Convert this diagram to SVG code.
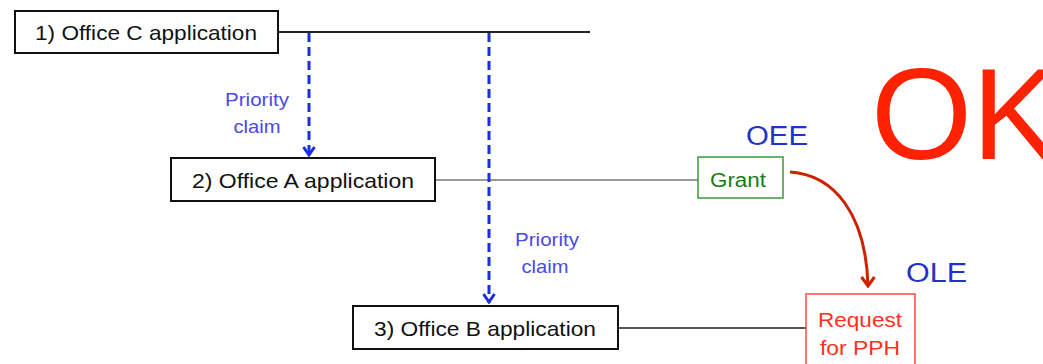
<svg xmlns="http://www.w3.org/2000/svg" width="1043" height="364" viewBox="0 0 1043 364">
<style>
.box{fill:#fff;stroke:#111;stroke-width:2}
.lbl{font-family:"Liberation Sans",Arial,sans-serif;font-size:21px;fill:#111;text-anchor:middle}
.pc{font-family:"Liberation Sans",Arial,sans-serif;font-size:19px;fill:#4a4ae6;text-anchor:middle}
.off{font-family:"Liberation Sans",Arial,sans-serif;font-size:27px;fill:#2233cc}
.dash{stroke:#1a2fe0;stroke-width:3;stroke-dasharray:9 5;fill:none}
.red{font-family:"Liberation Sans",Arial,sans-serif;font-size:20px;fill:#ff3020;text-anchor:middle}
</style>
<defs>
<marker id="vb" markerWidth="14" markerHeight="12" refX="7" refY="11" orient="0" markerUnits="userSpaceOnUse" viewBox="0 0 14 12">
<path d="M1.5 2 L7 10 L12.5 2" fill="none" stroke="#1a2fe0" stroke-width="3"/>
</marker>
<marker id="vr" markerWidth="16" markerHeight="14" refX="8" refY="12" orient="0" markerUnits="userSpaceOnUse" viewBox="0 0 16 14">
<path d="M1.5 3 L8 12 L14.5 3" fill="none" stroke="#cc2200" stroke-width="3"/>
</marker>
</defs>
<rect width="1043" height="364" fill="#fff"/>
<g id="connectors">
<line x1="278" y1="32" x2="590" y2="32" stroke="#222" stroke-width="2"/>
<line x1="435" y1="180" x2="698" y2="180" stroke="#999" stroke-width="2"/>
<line x1="618" y1="328" x2="807" y2="328" stroke="#555" stroke-width="2"/>
<line class="dash" x1="309" y1="33" x2="309" y2="156" marker-end="url(#vb)"/>
<line class="dash" x1="489" y1="33" x2="489" y2="303" marker-end="url(#vb)"/>
<path d="M790 172 C835 175 866 215 868 286" fill="none" stroke="#cc2200" stroke-width="3" marker-end="url(#vr)"/>
</g>
<g id="office-c">
<rect class="box" x="15" y="11" width="263" height="42"/>
<text class="lbl" x="146" y="40" textLength="222" lengthAdjust="spacingAndGlyphs">1) Office C application</text>
</g>
<g id="office-a">
<rect class="box" x="171" y="158" width="264" height="43"/>
<text class="lbl" x="303" y="188" textLength="222" lengthAdjust="spacingAndGlyphs">2) Office A application</text>
</g>
<g id="office-b">
<rect class="box" x="353" y="306" width="265" height="43"/>
<text class="lbl" x="485" y="336" textLength="222" lengthAdjust="spacingAndGlyphs">3) Office B application</text>
</g>
<g id="label-pc1">
<text class="pc" x="257" y="106" textLength="64" lengthAdjust="spacingAndGlyphs">Priority</text>
<text class="pc" x="257" y="133" textLength="47" lengthAdjust="spacingAndGlyphs">claim</text>
</g>
<g id="label-pc2">
<text class="pc" x="547" y="246" textLength="64" lengthAdjust="spacingAndGlyphs">Priority</text>
<text class="pc" x="545" y="273" textLength="47" lengthAdjust="spacingAndGlyphs">claim</text>
</g>
<g id="grant">
<rect x="698" y="157" width="85" height="41" fill="#fff" stroke="#3a9a3a" stroke-width="1.5"/>
<text x="738" y="187" font-family="'Liberation Sans',Arial,sans-serif" font-size="20" fill="#1a7a1a" text-anchor="middle" textLength="56" lengthAdjust="spacingAndGlyphs">Grant</text>
</g>
<g id="oee"><text class="off" x="746" y="145" textLength="62" lengthAdjust="spacingAndGlyphs">OEE</text></g>
<g id="ole"><text class="off" x="906" y="282" textLength="61" lengthAdjust="spacingAndGlyphs">OLE</text></g>
<g id="request">
<rect x="806" y="294" width="109" height="80" fill="#fff" stroke="#ff4a3a" stroke-width="1.5"/>
<text class="red" x="860" y="327" textLength="84" lengthAdjust="spacingAndGlyphs">Request</text>
<text class="red" x="860" y="355" textLength="80" lengthAdjust="spacingAndGlyphs">for PPH</text>
</g>
<g id="ok"><text x="871" y="159" font-family="'Liberation Sans',Arial,sans-serif" font-size="130" fill="#ff2200">OK</text></g>
</svg>
